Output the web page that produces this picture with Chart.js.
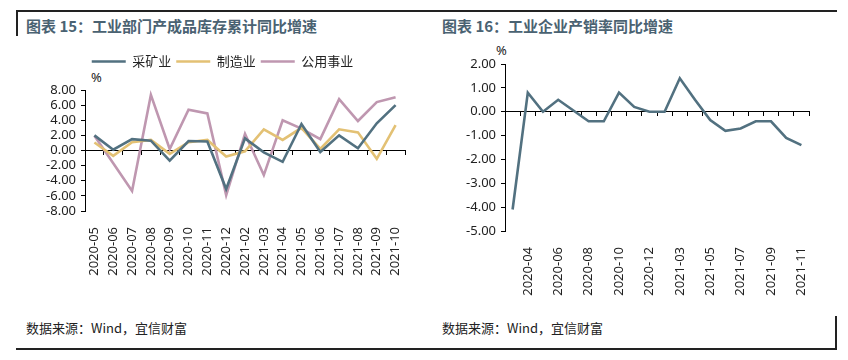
<!DOCTYPE html>
<html>
<head>
<meta charset="utf-8">
<script src="https://cdn.jsdelivr.net/npm/chart.js@4.4.0/dist/chart.umd.min.js"></script>
<style>
  body { margin: 0; width: 848px; height: 360px; background: #fff; position: relative; overflow: hidden; font-family: "Noto Sans CJK SC", sans-serif; }
  .abs { position: absolute; }
  .title { font-size: 15px; font-weight: bold; color: #4a6272; white-space: nowrap; line-height: 18px; }
  .src { font-size: 13px; color: #222; white-space: nowrap; line-height: 16px; }
  .pct { font-size: 13px; color: #222; font-family: "Noto Sans", sans-serif; line-height: 14px; }
  .rule { position: absolute; background: #222; }
  canvas { position: absolute; }
</style>
</head>
<body>
  <div class="rule" style="left:16px;top:10px;width:821px;height:2px;"></div>
  <div class="rule" style="left:16px;top:10px;width:2px;height:26px;"></div>
  <div class="rule" style="left:16px;top:348px;width:821px;height:2px;"></div>
  <div class="rule" style="left:835px;top:316px;width:2px;height:34px;"></div>

  <div class="abs title" style="left:26px;top:17px;">图表 15：工业部门产成品库存累计同比增速</div>
  <div class="abs title" style="left:442px;top:17px;">图表 16：工业企业产销率同比增速</div>

  <div class="abs pct" style="left:91px;top:70px;">%</div>
  <div class="abs pct" style="left:496px;top:43px;">%</div>

  <canvas id="inventoryChart" width="384" height="240" style="left:40px;top:50px;"></canvas>
  <canvas id="salesRateChart" width="424" height="280" style="left:424px;top:30px;"></canvas>

  <div class="abs src" style="left:26px;top:320px;">数据来源：Wind，宜信财富</div>
  <div class="abs src" style="left:442px;top:320px;">数据来源：Wind，宜信财富</div>

<script>
"use-strict";

// chart 15: inventory growth by sector
const inventoryMonths = ['2020-05', '2020-06', '2020-07', '2020-08', '2020-09', '2020-10', '2020-11', '2020-12',
  '2021-02', '2021-03', '2021-04', '2021-05', '2021-06', '2021-07', '2021-08', '2021-09', '2021-10'];
const mining = [2.0, 0.1, 1.5, 1.3, -1.35, 1.25, 1.2, -5.1, 1.6, -0.25, -1.5, 3.5, -0.2, 2.0, 0.3, 3.6, 6.0];
const manufacturing = [1.05, -0.7, 1.1, 1.4, -0.45, 1.1, 1.4, -0.8, -0.1, 2.8, 1.4, 3.0, 0.2, 2.8, 2.4, -1.1, 3.35];
const utilities = [1.95, -1.7, -5.35, 7.35, 0.2, 5.4, 4.9, -5.9, 2.2, -3.25, 4.0, 2.9, 1.5, 6.8, 3.9, 6.4, 7.05];
const inventoryTicks = [-8, -6, -4, -2, 0, 2, 4, 6, 8];

// chart 16: production-sales ratio growth
const salesMonths = ['2020-03', '2020-04', '2020-05', '2020-06', '2020-07', '2020-08', '2020-09', '2020-10', '2020-11', '2020-12',
  '2021-02', '2021-03', '2021-04', '2021-05', '2021-06', '2021-07', '2021-08', '2021-09', '2021-10', '2021-11'];
const salesRate = [-4.1, 0.8, 0.0, 0.5, 0.05, -0.4, -0.4, 0.8, 0.2, 0.0, 0.0, 1.4, 0.5, -0.35, -0.8, -0.7, -0.4, -0.4, -1.1, -1.4];
const salesTicks = [-5, -4, -3, -2, -1, 0, 1, 2];

const TICK_FONT = { family: 'Noto Sans', size: 13 };
const TICK_COLOR = '#222';

// pushes the plot down below the legend a bit
const legendGap = {
  id: 'legendGap',
  afterInit: (chart, args, opts) => {
    if (!chart.legend) return;
    const fit = chart.legend.fit;
    chart.legend.fit = function () {
      fit.call(this);
      this.height += opts.extra || 0;
    };
  }
};

const valueAxis = (ticks, width) => ({
  min: Math.min(...ticks),
  max: Math.max(...ticks),
  afterFit: (scale) => { scale.width = width; },
  grid: { drawOnChartArea: false, drawTicks: true, tickLength: 4, color: '#000' },
  border: { display: true, color: '#000', width: 1 },
  ticks: {
    stepSize: ticks[1] - ticks[0],
    autoSkip: false,
    padding: 5,
    font: TICK_FONT,
    color: TICK_COLOR,
    callback: (v) => v.toFixed(2)
  }
});

const labelAxis = (height, everyOther) => ({
  type: 'category',
  position: 'bottom',
  offset: true,
  afterFit: (scale) => { scale.height = height; },
  grid: { display: false },
  border: { display: false },
  ticks: {
    autoSkip: false,
    minRotation: 90,
    maxRotation: 90,
    padding: 8,
    font: TICK_FONT,
    color: TICK_COLOR,
    callback: function (v, i) {
      if (everyOther && i % 2 === 0) return '';
      return this.getLabelForValue(v);
    }
  }
});

// zero line with tick marks between categories
const zeroAxis = () => ({
  type: 'category',
  position: { y: 0 },
  offset: true,
  grid: { display: true, offset: true, drawOnChartArea: false, drawTicks: true, tickLength: 4, color: '#000' },
  border: { display: true, color: '#000', width: 1 },
  ticks: { display: false }
});

const lineSet = (label, data, color) => ({
  label: label,
  data: data,
  borderColor: color,
  backgroundColor: color,
  borderWidth: 2.6,
  pointRadius: 0,
  pointStyle: 'line',
  tension: 0,
  fill: false
});

new Chart(document.getElementById('inventoryChart'), {
  type: 'line',
  data: {
    labels: inventoryMonths,
    datasets: [
      lineSet('采矿业', mining, '#527180'),
      lineSet('制造业', manufacturing, '#e3c174'),
      lineSet('公用事业', utilities, '#bf97b0')
    ]
  },
  options: {
    responsive: false,
    animation: false,
    devicePixelRatio: 1,
    layout: { padding: { left: 0, right: 19, top: 0, bottom: 0 } },
    plugins: {
      legend: {
        display: true,
        position: 'top',
        labels: {
          usePointStyle: true,
          pointStyleWidth: 34,
          padding: 5,
          color: '#222',
          font: { family: 'Noto Sans CJK SC', size: 13 }
        }
      },
      legendGap: { extra: 12 },
      tooltip: { enabled: false }
    },
    scales: {
      x: labelAxis(79, false),
      x2: zeroAxis(),
      y: valueAxis(inventoryTicks, 45)
    }
  },
  plugins: [legendGap]
});

new Chart(document.getElementById('salesRateChart'), {
  type: 'line',
  data: {
    labels: salesMonths,
    datasets: [lineSet('产销率', salesRate, '#527180')]
  },
  options: {
    responsive: false,
    animation: false,
    devicePixelRatio: 1,
    layout: { padding: { left: 0, right: 39, top: 34, bottom: 0 } },
    plugins: {
      legend: { display: false },
      tooltip: { enabled: false }
    },
    scales: {
      x: labelAxis(79, true),
      x2: zeroAxis(),
      y: valueAxis(salesTicks, 81)
    }
  }
});
</script>
</body>
</html>
